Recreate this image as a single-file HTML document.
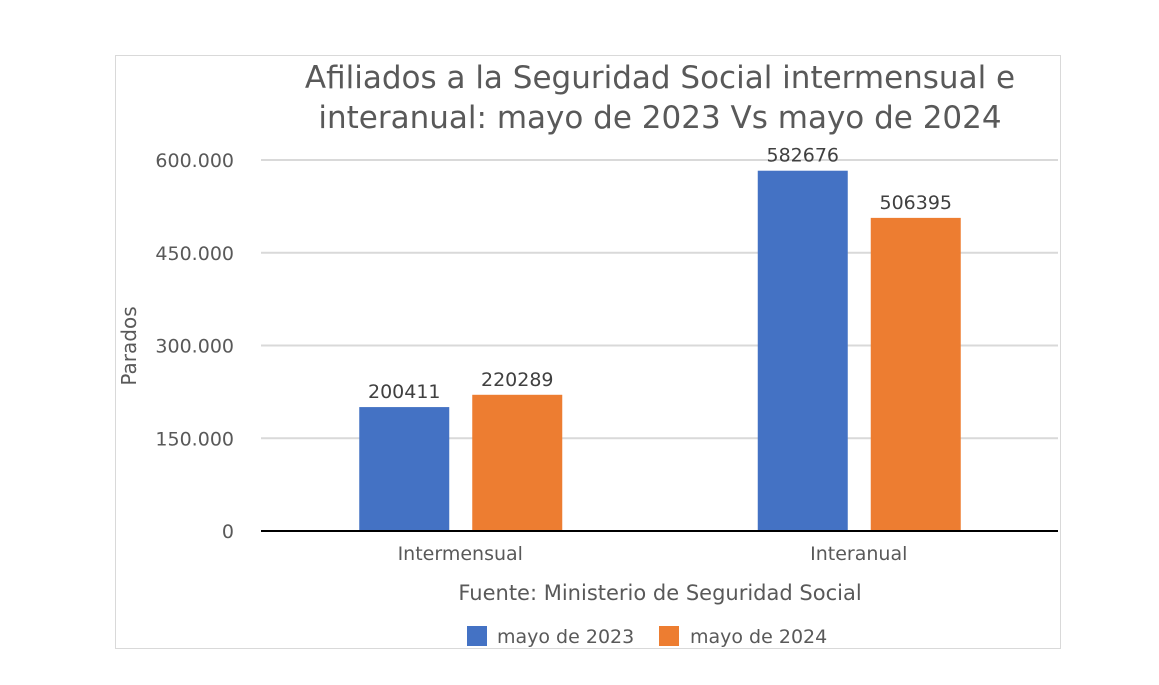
<!DOCTYPE html>
<html><head><meta charset="utf-8"><style>
body{margin:0;background:#fff;}
svg{display:block;font-family:"DejaVu Sans","Liberation Sans",sans-serif;}
</style></head><body>
<svg id="c" width="1159" height="685">
<rect x="115.5" y="55.5" width="945" height="593" fill="#fff" stroke="#d9d9d9"/>
<text x="660" y="88" font-size="31" fill="#595959" text-anchor="middle">Afiliados a la Seguridad Social intermensual e</text>
<text x="660" y="128" font-size="31" fill="#595959" text-anchor="middle">interanual: mayo de 2023 Vs mayo de 2024</text>
<text transform="translate(136,346) rotate(-90)" font-size="20" fill="#595959" text-anchor="middle">Parados</text>
<g id="grid"></g><g id="bars"></g>
<text x="660" y="600" font-size="21" fill="#595959" text-anchor="middle">Fuente: Ministerio de Seguridad Social</text>
<rect x="467" y="626" width="20" height="20" fill="#4472c4"/>
<text x="497" y="643" font-size="19" fill="#595959">mayo de 2023</text>
<rect x="659" y="626" width="20" height="20" fill="#ed7d31"/>
<text x="690" y="643" font-size="19" fill="#595959">mayo de 2024</text>
</svg>
<script>
const categories=["Intermensual","Interanual"];
const series2023=[200411,582676];
const series2024=[220289,506395];
const tickValues=[0,150000,300000,450000,600000];
const tickLabels=["0","150.000","300.000","450.000","600.000"];
const NS="http://www.w3.org/2000/svg";
const x0=261,x1=1058,y0=531,yTop=160,maxV=600000;
const y=v=>y0-(v/maxV)*(y0-yTop);
const bw=(x1-x0)/categories.length;
function mk(t,a,p){const e=document.createElementNS(NS,t);for(const k in a)e.setAttribute(k,a[k]);p.appendChild(e);return e;}
const g=document.getElementById('grid'),b=document.getElementById('bars');
tickValues.forEach((v,i)=>{
  if(v>0){const l=mk('line',{x1:x0,x2:x1,y1:y(v),y2:y(v),stroke:'#d9d9d9','stroke-width':2},g);
  
  }
  const t=mk('text',{x:234,y:y(v)+7,'font-size':19,fill:'#595959','text-anchor':'end'},g);
  t.textContent=tickLabels[i];
  
  
});
const sets=[[series2023,'#4472c4',-101],[series2024,'#ed7d31',12]];
categories.forEach((c,i)=>{
  const cx=x0+bw*(i+0.5);
  sets.forEach(([s,col,off])=>{
    const r=mk('rect',{x:cx+off,y:y(s[i]),width:90,height:y0-y(s[i]),fill:col},b);
    
    
    const t=mk('text',{x:cx+off+45,y:y(s[i])-9,'font-size':19,fill:'#404040','text-anchor':'middle'},b);
    t.textContent=s[i];
    
    
  });
  const t=mk('text',{x:cx,y:560,'font-size':19,fill:'#595959','text-anchor':'middle'},b);
  t.textContent=c;
  
  
});
const ax=mk('line',{x1:x0,x2:x1,y1:y0,y2:y0,stroke:'#000','stroke-width':2},b);


</script>
</body></html>
